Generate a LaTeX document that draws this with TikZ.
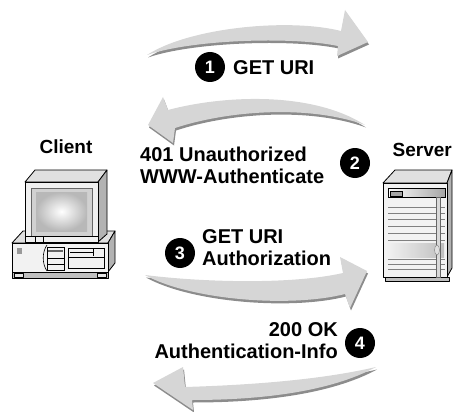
\documentclass[tikz,border=0pt]{standalone}
\usepackage{fontspec}
\setmainfont{Liberation Sans}

\definecolor{sweep}{gray}{0.84}
\definecolor{sweepshade}{gray}{0.55}

% curved block arrow: shadow first, then the light body
\newcommand\sweeparrow[1]{%
  \fill[sweepshade, shift={(1,2.5)}] #1;
  \fill[sweep] #1;}

\begin{document}
\begin{tikzpicture}[x=1pt, y=-1pt,
    lbl/.style={font=\bfseries\fontsize{19}{22}\selectfont, inner sep=0pt},
    msg/.style={font=\bfseries\fontsize{20}{22}\selectfont, inner sep=0pt},
    badge/.style={circle, fill=black, text=white, minimum size=30pt,
      inner sep=0pt, font=\bfseries\fontsize{18}{18}\selectfont},
    box/.style={draw=black, line width=0.8pt, line join=round}]
    \useasboundingbox (0,0) rectangle (453,412);

    % the four request/response sweeps
    \sweeparrow{(147,55) .. controls (190,27) and (290,18) .. (341,31)
      -- (345,10) -- (368,42) -- (337,56) -- (338,46)
      .. controls (290,36) and (190,40) .. (147,55) -- cycle}
    \sweeparrow{(365,125) .. controls (310,90) and (220,96) .. (168,110)
      -- (163,97) -- (148,125) -- (173,143) -- (175,128)
      .. controls (230,110) and (310,105) .. (365,125) -- cycle}
    \sweeparrow{(145,275) .. controls (200,282) and (290,285) .. (343,273)
      -- (340,257) -- (367,271) -- (350,308) -- (345,294)
      .. controls (290,308) and (190,300) .. (145,275) -- cycle}
    \sweeparrow{(376,367) .. controls (320,380) and (250,385) .. (185,387)
      -- (183,367) -- (153,383) -- (193,410) -- (192,400)
      .. controls (260,400) and (330,392) .. (376,367) -- cycle}

    % client: desktop case
    \filldraw[box, fill=black!12] (12,243) -- (23,231) -- (115,231) -- (108,243) -- cycle;
    \filldraw[box, fill=black!30] (108,243) -- (115,231) -- (115,263) -- (108,272) -- cycle;
    \filldraw[box, fill=black!5] (12,243) rectangle (108,272);
    \filldraw[box, fill=black!25] (12,272) rectangle (108,278);
    \filldraw[box, fill=black!10, line width=0.5pt] (14,273) rectangle (23,277);
    \filldraw[box, fill=black!10, line width=0.5pt] (97,273) rectangle (106,277);
    \fill[black!40] (17,248) rectangle (22,254);
    \draw[line width=0.6pt] (47,245) .. controls (42,252) and (42,264) .. (47,271);
    \draw[line width=0.6pt] (47,247) rectangle (64,270);
    \draw[line width=1.5pt, black!60] (48,251) -- (63,251);
    \draw[line width=0.5pt] (47,258) -- (64,258) (47,264) -- (64,264);
    \draw[line width=0.6pt] (68,248) rectangle (104,268);
    \draw[line width=0.5pt] (70,252) -- (93,252) (93,248) -- (93,256) (68,257) -- (104,257);

    % client: monitor
    \filldraw[box, fill=black!12] (25,182) -- (35,170) -- (107,170) -- (98,182) -- cycle;
    \filldraw[box, fill=black!30] (98,182) -- (107,170) -- (107,234) -- (98,242) -- cycle;
    \filldraw[box, fill=black!6] (25,182) rectangle (98,242);
    \filldraw[draw=black!60, fill=black!18] (31,188) rectangle (92,236);
    \shade[inner color=white, outer color=black!28] (36,192) rectangle (87,231);
    \draw[line width=0.5pt] (25,236) -- (98,236) (35,236) -- (35,242) (43,236) -- (43,242);

    % server cabinet
    \filldraw[box, fill=black!25] (385,277) rectangle (449,281);
    \filldraw[box, fill=black!12] (383,183) -- (395,170) -- (452,170) -- (447,183) -- cycle;
    \filldraw[box, fill=black!30] (447,183) -- (452,170) -- (452,268) -- (447,277) -- cycle;
    \filldraw[box, fill=black!5] (383,183) rectangle (447,277);
    \shade[left color=white, right color=black!35] (388,188) rectangle (445,197);
    \draw[line width=0.6pt] (388,188) rectangle (445,197);
    \filldraw[line width=0.5pt, fill=black!35] (390,191) rectangle (402,196);
    \foreach \y in {207,213,219,226,233,240,259,264,269}
      \draw[black!50, line width=0.6pt] (388,\y) -- (445,\y);
    \shade[left color=black!5, right color=black!25] (386,243) rectangle (444,257);
    \filldraw[draw=black!60, fill=black!15, line width=0.5pt] (436,197) rectangle (440,277);
    \filldraw[draw=black!50, fill=black!12, line width=0.4pt] (437,250) ellipse (2.5 and 5);

    % machine labels
    \node[lbl, anchor=north] (client) at (66,140) {Client};
    \node[lbl, anchor=north east] (server) at (452,143) {Server};

    % numbered steps
    \node[badge] (b1) at (210,67) {1};
    \node[msg, anchor=north west] (m1) at (233,60) {GET URI};

    \node[badge] (b2) at (355,163) {2};
    \node[msg, anchor=north west, align=left] (m2) at (140,147)
      {401 Unauthorized\\WWW-Authenticate};

    \node[badge] (b3) at (180,253) {3};
    \node[msg, anchor=north west, align=left] (m3) at (202,229)
      {GET URI\\Authorization};

    \node[badge] (b4) at (360,343) {4};
    \node[msg, anchor=north east, align=right] (m4) at (338,322)
      {200 OK\\Authentication-Info};
\end{tikzpicture}
\end{document}
